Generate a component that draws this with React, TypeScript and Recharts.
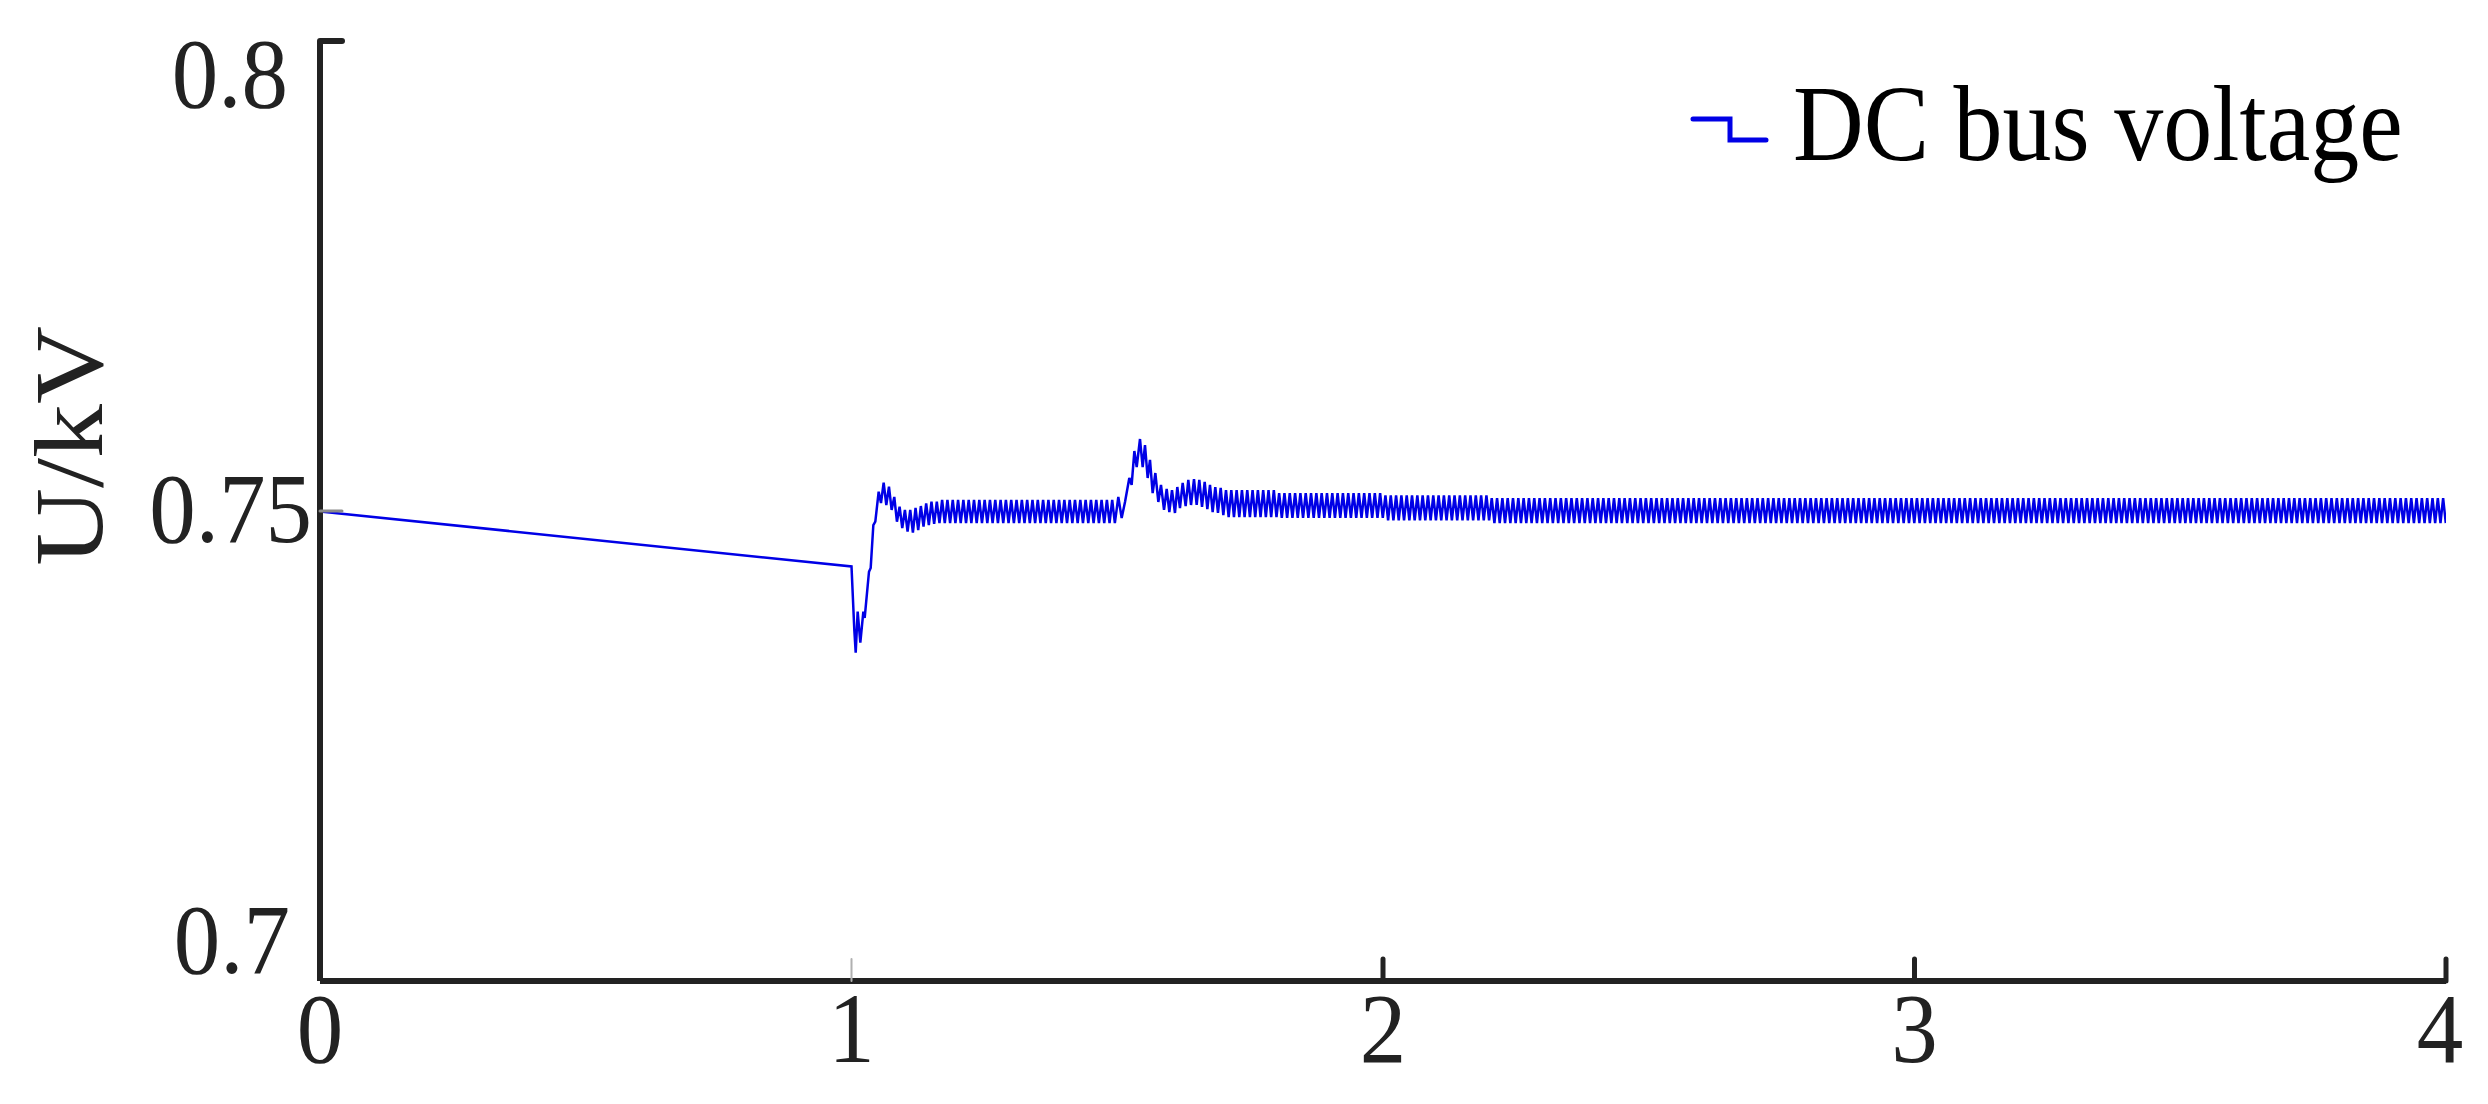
import React from 'react';
import { LineChart, Line, XAxis, YAxis, Legend, Label } from 'recharts';

const FONT = '"Liberation Serif", "Times New Roman", Times, serif';
const LINE_COLOR = '#0000e6';
const AXIS_COLOR = '#222222';

const xTicks = [0, 1, 2, 3, 4];
const yTicks = [0.7, 0.75, 0.8];
const seriesName = 'DC bus voltage';
const yAxisLabel = 'U/kV';

// slow drift before the step at t = 1 s
const driftTimes = [0, 1.0];
const driftValues = [0.74995, 0.7441];

// transient after t = 1 s (read peak by peak)
const step1Times = [
  1.0053, 1.0079, 1.0116, 1.0166, 1.0223, 1.0248, 1.0329, 1.0361, 1.0411, 1.0448,
  1.0511, 1.0555, 1.0605, 1.0655, 1.0705, 1.0755, 1.0805, 1.0855, 1.0905, 1.0955,
  1.1005, 1.1055, 1.1105, 1.1155, 1.1205, 1.1255, 1.1305, 1.1355, 1.1405, 1.1455,
  1.1505, 1.1555, 1.1605,
];
const step1Values = [
  0.73734, 0.73493, 0.73929, 0.73599, 0.73929, 0.73862, 0.74354, 0.74394, 0.74851, 0.74886,
  0.75205, 0.75085, 0.75301, 0.75064, 0.75259, 0.75011, 0.75149, 0.74886, 0.75046, 0.74819,
  0.75011, 0.7478, 0.75011, 0.74769, 0.75032, 0.74798, 0.75053, 0.74833, 0.75082, 0.74851,
  0.75099, 0.74862, 0.75099,
];

// transient around t = 1.5 s (read peak by peak)
const step2Times = [
  1.502, 1.5083, 1.5146, 1.5227, 1.5271, 1.5322, 1.5366, 1.5428, 1.5478, 1.5522,
  1.5572, 1.5616, 1.5666, 1.5717, 1.5773, 1.5823, 1.588, 1.593, 1.598, 1.603,
  1.6086, 1.613, 1.618, 1.6231, 1.6287, 1.6337, 1.6388, 1.6444, 1.6494, 1.6544,
  1.6595, 1.6645, 1.6695, 1.6745, 1.6795, 1.6845, 1.6895, 1.6946, 1.6996,
];
const step2Values = [
  0.75149, 0.74926, 0.75096, 0.75351, 0.75277, 0.75638, 0.75468, 0.75766, 0.75468, 0.75702,
  0.75351, 0.75543, 0.75191, 0.75404, 0.75096, 0.75277, 0.75011, 0.75234, 0.74989, 0.75223,
  0.74979, 0.75255, 0.75032, 0.75298, 0.75053, 0.7533, 0.75064, 0.7534, 0.75064, 0.7533,
  0.75043, 0.75309, 0.75021, 0.75277, 0.74989, 0.75255, 0.74979, 0.75245, 0.74957,
];

// steady 100 Hz ripple bands: peak / trough levels
const rippleHalfPeriod = 0.005;
const bandStartTimes = [1.1655, 1.7046, 1.8046, 2.0046, 2.2046];
const bandEndTimes = [1.497, 1.8, 2.0, 2.2, 4.0];
const bandUpper = [0.75117, 0.75223, 0.75191, 0.75165, 0.75138];
const bandLower = [0.74872, 0.74936, 0.74926, 0.749, 0.74872];
const bandStartsHigh = [false, true, true, true, true];

type Pt = { t: number; v: number };

const pairs = (ts: number[], vs: number[]): Pt[] => ts.map((t, i) => ({ t, v: vs[i] }));

const band = (i: number): Pt[] => {
  const out: Pt[] = [];
  let k = 0;
  while (bandStartTimes[i] + k * rippleHalfPeriod <= bandEndTimes[i] + 1e-9) {
    const high = bandStartsHigh[i] ? k % 2 === 0 : k % 2 === 1;
    out.push({
      t: +(bandStartTimes[i] + k * rippleHalfPeriod).toFixed(4),
      v: high ? bandUpper[i] : bandLower[i],
    });
    k++;
  }
  return out;
};

const data: Pt[] = [
  ...pairs(driftTimes, driftValues),
  ...pairs(step1Times, step1Values),
  ...band(0),
  ...pairs(step2Times, step2Values),
  ...band(1),
  ...band(2),
  ...band(3),
  ...band(4),
];

const TICK_FONT_SIZE = 93;
const TICK_STRETCH = 1.07;

const XTick = (props: any) => {
  const { x, y, payload } = props;
  const v = payload.value;
  const dx = v === 4 ? -6 : 0;
  return (
    <g>
      {v !== 0 && (
        <line
          x1={x}
          y1={y}
          x2={x}
          y2={y - 22}
          stroke={v === 1 ? '#b0b0b0' : AXIS_COLOR}
          strokeWidth={v === 1 ? 2 : 5}
          strokeLinecap="round"
        />
      )}
      <text
        transform={`translate(${x + dx},${y + 81}) scale(1,${TICK_STRETCH})`}
        textAnchor="middle"
        fontFamily={FONT}
        fontSize={TICK_FONT_SIZE}
        fill={AXIS_COLOR}
      >
        {String(v)}
      </text>
    </g>
  );
};

const YTick = (props: any) => {
  const { x, y, payload } = props;
  const v = payload.value;
  let dx = -8;
  let dy = 31;
  if (v === 0.8) {
    dx = -32;
    dy = 66;
  } else if (v === 0.7) {
    dx = -30;
    dy = -8;
  }
  return (
    <g>
      {v !== 0.7 && (
        <line
          x1={x}
          y1={y}
          x2={x + 22}
          y2={y}
          stroke={v === 0.75 ? '#8a8a8a' : AXIS_COLOR}
          strokeWidth={v === 0.75 ? 3 : 6}
          strokeLinecap="round"
        />
      )}
      <text
        transform={`translate(${x + dx},${y + dy}) scale(1,${TICK_STRETCH})`}
        textAnchor="end"
        fontFamily={FONT}
        fontSize={TICK_FONT_SIZE}
        fill={AXIS_COLOR}
      >
        {String(v)}
      </text>
    </g>
  );
};

const renderYLabel = () => (
  <text
    transform="translate(102,446) rotate(-90) scale(1.1,1)"
    textAnchor="middle"
    fontFamily={FONT}
    fontSize={98}
    fill={AXIS_COLOR}
  >
    {yAxisLabel}
  </text>
);

const renderLegend = () => (
  <svg width={780} height={140} style={{ overflow: 'visible', display: 'block' }}>
    <path
      d="M13 59 H50 V80 H86"
      stroke={LINE_COLOR}
      strokeWidth={5}
      fill="none"
      strokeLinecap="round"
    />
    <text
      transform="translate(113,100) scale(1,1.1)"
      fontFamily={FONT}
      fontSize={98}
      fill="#000"
    >
      {seriesName}
    </text>
  </svg>
);

export default function App() {
  return (
    <div style={{ position: 'absolute', left: 0, top: 0, background: '#fff' }}>
      <LineChart
        width={2488}
        height={1104}
        data={data}
        margin={{ top: 41, right: 42, bottom: 23, left: 220 }}
      >
        <XAxis
          dataKey="t"
          type="number"
          domain={[0, 4]}
          ticks={xTicks}
          interval={0}
          height={100}
          tickSize={0}
          tickMargin={0}
          tickLine={false}
          axisLine={{ stroke: AXIS_COLOR, strokeWidth: 6 }}
          tick={<XTick />}
          allowDataOverflow
        />
        <YAxis
          type="number"
          domain={[0.7, 0.8]}
          ticks={yTicks}
          interval={0}
          width={100}
          tickSize={0}
          tickMargin={0}
          tickLine={false}
          axisLine={{ stroke: AXIS_COLOR, strokeWidth: 6 }}
          tick={<YTick />}
          allowDataOverflow
        >
          <Label content={renderYLabel} />
        </YAxis>
        <Legend
          verticalAlign="middle"
          align="center"
          content={renderLegend}
          wrapperStyle={{ position: 'absolute', left: 1680, top: 60, width: 780, height: 140 }}
        />
        <Line
          type="linear"
          dataKey="v"
          name={seriesName}
          stroke={LINE_COLOR}
          strokeWidth={2.5}
          dot={false}
          activeDot={false}
          isAnimationActive={false}
        />
      </LineChart>
    </div>
  );
}
